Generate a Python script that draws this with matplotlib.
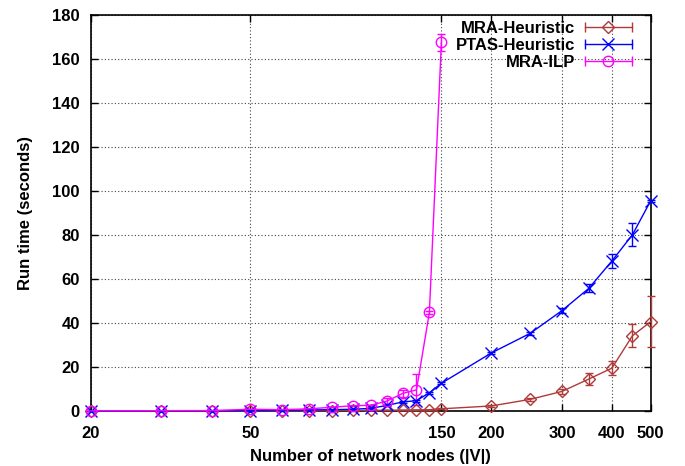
import matplotlib
matplotlib.use("Agg")
import matplotlib.pyplot as plt
from matplotlib.lines import Line2D
from matplotlib.legend_handler import HandlerBase

plt.rcParams['font.family'] = ['Liberation Sans', 'DejaVu Sans']
plt.rcParams['font.weight'] = 'bold'

nodes = [20, 30, 40, 50, 60, 70, 80, 90, 100, 110, 120, 130, 140, 150,
         200, 250, 300, 350, 400, 450, 500]
mra_heur = [0.05, 0.05, 0.08, 0.1, 0.12, 0.15, 0.2, 0.25, 0.3, 0.35, 0.4, 0.5,
            0.6, 1.0, 2.3, 5.3, 8.9, 14.5, 19.5, 34.2, 40.6]
mra_heur_err = [0, 0, 0, 0, 0, 0, 0, 0, 0, 0, 0, 0,
                0, 0.2, 0.5, 0.8, 1.0, 2.8, 3.0, 5.3, 11.6]
ptas_heur = [0.1, 0.1, 0.15, 0.2, 0.3, 0.5, 0.6, 0.8, 1.2, 2.6, 4.1, 4.7,
             8.3, 12.6, 26.4, 35.3, 45.6, 55.7, 68.2, 80.1, 95.6]
ptas_heur_err = [0, 0, 0, 0, 0, 0, 0, 0, 0, 0.3, 0.4, 0.5,
                 0.5, 0.5, 0.6, 0.8, 1.2, 1.8, 3.0, 5.2, 0.5]
ilp_nodes = [20, 30, 40, 50, 60, 70, 80, 90, 100, 110, 120, 130, 140, 150]
mra_ilp = [0.1, 0.15, 0.2, 0.8, 0.6, 1.0, 1.7, 2.4, 2.6, 4.6, 8.0, 9.6, 44.8, 167.5]
mra_ilp_err = [0, 0, 0, 0, 0, 0, 0, 0, 0.3, 1.5, 1.5, 7.0, 0.8, 4.0]

labels = ['MRA-Heuristic', 'PTAS-Heuristic', 'MRA-ILP']
colors = ['#B03A3A', '#0000FF', '#FF00FF']
markers = ['D', 'x', 'o']
msizes = [6, 8, 7.5]

xticks = [20, 50, 150, 200, 300, 400, 500]
yticks = list(range(0, 181, 20))

fig = plt.figure(figsize=(6.85, 4.66), dpi=100)
ax = fig.add_axes([0.1328, 0.118, 0.8172, 0.850])

series = [(nodes, mra_heur, mra_heur_err), (nodes, ptas_heur, ptas_heur_err),
          (ilp_nodes, mra_ilp, mra_ilp_err)]
for (xs, ys, es), lab, c, m, ms in zip(series, labels, colors, markers, msizes):
    ax.errorbar(xs, ys, yerr=es, color=c, marker=m, markersize=ms,
                markerfacecolor='none', markeredgecolor=c, markeredgewidth=1.0,
                lw=1.0, elinewidth=1.0, capsize=3, capthick=1.0, label=lab,
                clip_on=False, zorder=3)

ax.set_xscale('log')
ax.set_xlim(20, 500)
ax.set_ylim(0, 180)
ax.set_xticks(xticks)
ax.set_xticklabels([str(t) for t in xticks])
ax.xaxis.set_minor_locator(matplotlib.ticker.NullLocator())
ax.set_yticks(yticks)

ax.grid(True, which='major', color='#444444', linestyle=(0, (1, 2)), lw=0.8)
ax.tick_params(direction='in', top=True, right=True, length=5, width=1,
               labelsize=12)
ax.tick_params(axis='y', pad=8)
ax.tick_params(axis='x', pad=10.5)
for lbl in ax.get_xticklabels() + ax.get_yticklabels():
    lbl.set_fontweight('bold')
for sp in ax.spines.values():
    sp.set_linewidth(1.2)

ax.set_xlabel('Number of network nodes (|V|)', fontsize=12, fontweight='bold', labelpad=6)
ax.set_ylabel('Run time (seconds)', fontsize=12, fontweight='bold', labelpad=13.5)


class HandlerGnuplot(HandlerBase):
    def __init__(self, color, marker, ms):
        super().__init__()
        self.c, self.m, self.ms = color, marker, ms

    def create_artists(self, legend, orig_handle, xdescent, ydescent, width,
                       height, fontsize, trans):
        y = height / 2 - ydescent
        x0, x1 = -xdescent, -xdescent + width
        line = Line2D([x0, x1], [y, y], color=self.c, lw=1.0)
        caps = Line2D([x0, x1], [y, y], color=self.c, lw=0, marker='|',
                      markersize=7, markeredgewidth=1.0)
        mk = Line2D([(x0 + x1) / 2], [y], color=self.c, lw=0, marker=self.m,
                    markersize=self.ms, markerfacecolor='none',
                    markeredgecolor=self.c, markeredgewidth=1.0)
        for a in (line, caps, mk):
            a.set_transform(trans)
        return [line, caps, mk]


handles = [Line2D([], []) for _ in labels]
hmap = {h: HandlerGnuplot(c, m, ms) for h, c, m, ms in zip(handles, colors, markers, msizes)}
leg = ax.legend(handles, labels, handler_map=hmap, loc='upper right',
                bbox_to_anchor=(0.966, 0.985),
                markerfirst=False, frameon=False,
                handlelength=2.8, handletextpad=0.6, labelspacing=0.12,
                borderaxespad=0, borderpad=0,
                prop={'weight': 'bold', 'size': 12})

fig.savefig('out.png', dpi=100)
